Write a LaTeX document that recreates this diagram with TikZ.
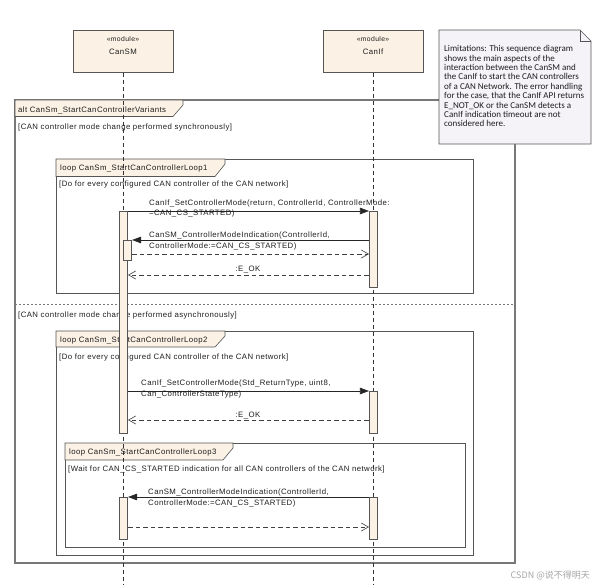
\documentclass[tikz,border=0pt]{standalone}
\usepackage{fontspec}
\setmainfont{Liberation Sans}[LetterSpace=5.5]
\newfontfamily\notefont{Carlito}
\newfontfamily\cjkfont{Noto Sans CJK SC}
\usetikzlibrary{arrows.meta}
\definecolor{beige}{RGB}{251,241,228}
\definecolor{notefill}{RGB}{245,243,247}
\definecolor{framecol}{RGB}{85,85,85}
\definecolor{altcol}{RGB}{120,120,120}
\definecolor{txtcol}{RGB}{30,30,30}
\begin{document}
\begin{tikzpicture}[x=1pt,y=-1pt,
  every node/.style={text=txtcol},
  font=\fontsize{7.8}{10.8}\selectfont,
  head/.style={draw=framecol, fill=beige, line width=0.6pt, minimum width=100pt, minimum height=42pt, inner sep=0pt, anchor=north},
  lifeline/.style={draw=black!80, line width=0.6pt, dash pattern=on 4pt off 3pt},
  actbar/.style={draw=framecol, fill=beige, line width=0.6pt, minimum width=8.5pt, inner sep=0pt, anchor=north},
  frameline/.style={draw=framecol, line width=0.7pt},
  altline/.style={draw=altcol, line width=1.2pt},
  tab/.style={draw=framecol, fill=beige, line width=0.6pt},
  lbl/.style={inner sep=0pt, anchor=base west, align=left},
  syncmsg/.style={draw=black!85, line width=0.6pt, -{Triangle[length=9pt,width=6.5pt]}},
  retmsg/.style={draw=black!75, line width=0.6pt, dash pattern=on 4.5pt off 3pt, -{Straight Barb[length=7pt,width=8pt]}},
]
\useasboundingbox (0,0) rectangle (594,585);

% ---------- alt frame ----------
\draw[altline] (15,100) rectangle (515,563);
\draw[tab] (15,100) -- (183,100) -- (183,105) -- (173,116.5) -- (15,116.5) -- cycle;
\node[lbl] (altlbl) at (18,112.5) {alt CanSm\_StartCanControllerVariants};
\node[lbl] (g1) at (18,130) {[CAN controller mode change performed synchronously]};
\draw[altcol, line width=0.8pt, dash pattern=on 2pt off 2pt] (15,304) -- (515,304);
\node[lbl] (g2) at (18,317) {[CAN controller mode change performed asynchronously]};

% ---------- loop 1 ----------
\draw[frameline] (56,159) rectangle (473,293);
\draw[tab] (56,159) -- (225,159) -- (225,164) -- (215,176.5) -- (56,176.5) -- cycle;
\node[lbl] (l1lbl) at (60,171) {loop CanSm\_StartCanControllerLoop1};
\node[lbl] (l1g) at (59,187) {[Do for every configured CAN controller of the CAN network]};

% ---------- loop 2 ----------
\draw[frameline] (56,331) rectangle (473,555);
\draw[tab] (56,331) -- (225,331) -- (225,336) -- (215,347) -- (56,347) -- cycle;
\node[lbl] (l2lbl) at (60,342) {loop CanSm\_StartCanControllerLoop2};
\node[lbl] (l2g) at (59,359) {[Do for every configured CAN controller of the CAN network]};

% ---------- loop 3 ----------
\draw[frameline] (65,443) rectangle (465,547);
\draw[tab] (65,443) -- (233,443) -- (233,448) -- (223,460) -- (65,460) -- cycle;
\node[lbl] (l3lbl) at (69,454) {loop CanSm\_StartCanControllerLoop3};
\node[lbl] (l3g) at (68,471) {[Wait for CAN\_CS\_STARTED indication for all CAN controllers of the CAN network]};

% ---------- note ----------
\draw[draw=framecol, fill=notefill, line width=0.6pt] (439,30) -- (580,30) -- (591,41) -- (591,144) -- (439,144) -- cycle;
\draw[draw=framecol, line width=0.6pt] (580,30) -- (580,41) -- (591,41);
\node[inner sep=0pt, anchor=base west, align=left, font=\notefont\fontsize{9}{9.4}\selectfont] (note) at (444,127)
 {Limitations: This sequence diagram\\shows the main aspects of the\\interaction between the CanSM and\\the CanIf to start the CAN controllers\\of a CAN Network. The error handling\\for the case, that the CanIf API returns\\E\_NOT\_OK or the CanSM detects a\\CanIf indication timeout are not\\considered here.};
\draw[altline] (515,144) -- (515,160);

% ---------- lifelines ----------
\node[head] (sm) at (123,30) {};
\node[head] (cif) at (373,30) {};
\node[font=\fontsize{6.8}{8}\selectfont, inner sep=0pt] (smst) at (123,39.5) {«module»};
\node[inner sep=0pt] (smname) at (123,52) {CanSM};
\node[font=\fontsize{6.8}{8}\selectfont, inner sep=0pt] (cifst) at (373,39.5) {«module»};
\node[inner sep=0pt] (cifname) at (373,52) {CanIf};
\coordinate (smend) at (123,585);
\coordinate (cifend) at (373,585);
\draw[lifeline] (sm.south) -- (smend);
\draw[lifeline] (cif.south) -- (cifend);

% ---------- activations ----------
\node[actbar, minimum height=222pt] (smA) at (123.5,211) {};
\node[actbar, minimum height=76pt] (cifA1) at (373.5,211) {};
\node[actbar, minimum height=20pt] (smN) at (127.5,240) {};
\node[actbar, minimum height=42pt] (cifA2) at (373.5,391) {};
\node[actbar, minimum height=42pt] (smA3) at (123.5,497) {};
\node[actbar, minimum height=42pt] (cifA3) at (373.5,497) {};

% ---------- messages ----------
\coordinate (y1) at (0,211);
\coordinate (y2) at (0,240);
\coordinate (y3) at (0,254);
\coordinate (y4) at (0,275);
\coordinate (y5) at (0,391);
\coordinate (y6) at (0,420);
\coordinate (y7) at (0,497);
\coordinate (y8) at (0,527);

\draw[syncmsg] (smA.east |- y1) -- (cifA1.west |- y1);
\node[lbl] (m1) at (149,216) {CanIf\_SetControllerMode(return, ControllerId, ControllerMode:\\=CAN\_CS\_STARTED)};
\draw[syncmsg] (cifA1.west |- y2) -- (smN.east |- y2);
\node[lbl] (m2) at (149,248.5) {CanSM\_ControllerModeIndication(ControllerId,\\ControllerMode:=CAN\_CS\_STARTED)};
\draw[retmsg] (smN.east |- y3) -- (cifA1.west |- y3);
\draw[retmsg] (cifA1.west |- y4) -- (smA.east |- y4);
\node[inner sep=0pt, anchor=base] (r1) at (248,272) {:E\_OK};

\draw[syncmsg] (smA.east |- y5) -- (cifA2.west |- y5);
\node[lbl] (m3) at (141,396) {CanIf\_SetControllerMode(Std\_ReturnType, uint8,\\Can\_ControllerStateType)};
\draw[retmsg] (cifA2.west |- y6) -- (smA.east |- y6);
\node[inner sep=0pt, anchor=base] (r2) at (248,417) {:E\_OK};

\draw[syncmsg] (cifA3.west |- y7) -- (smA3.east |- y7);
\node[lbl] (m4) at (148,505) {CanSM\_ControllerModeIndication(ControllerId,\\ControllerMode:=CAN\_CS\_STARTED)};
\draw[retmsg] (smA3.east |- y8) -- (cifA3.west |- y8);

% ---------- watermark ----------
\node[inner sep=0pt, anchor=base east, text=black!35, font=\cjkfont\fontsize{9}{10}\selectfont] (wm) at (590,578) {CSDN @说不得明天};
\end{tikzpicture}
\end{document}
